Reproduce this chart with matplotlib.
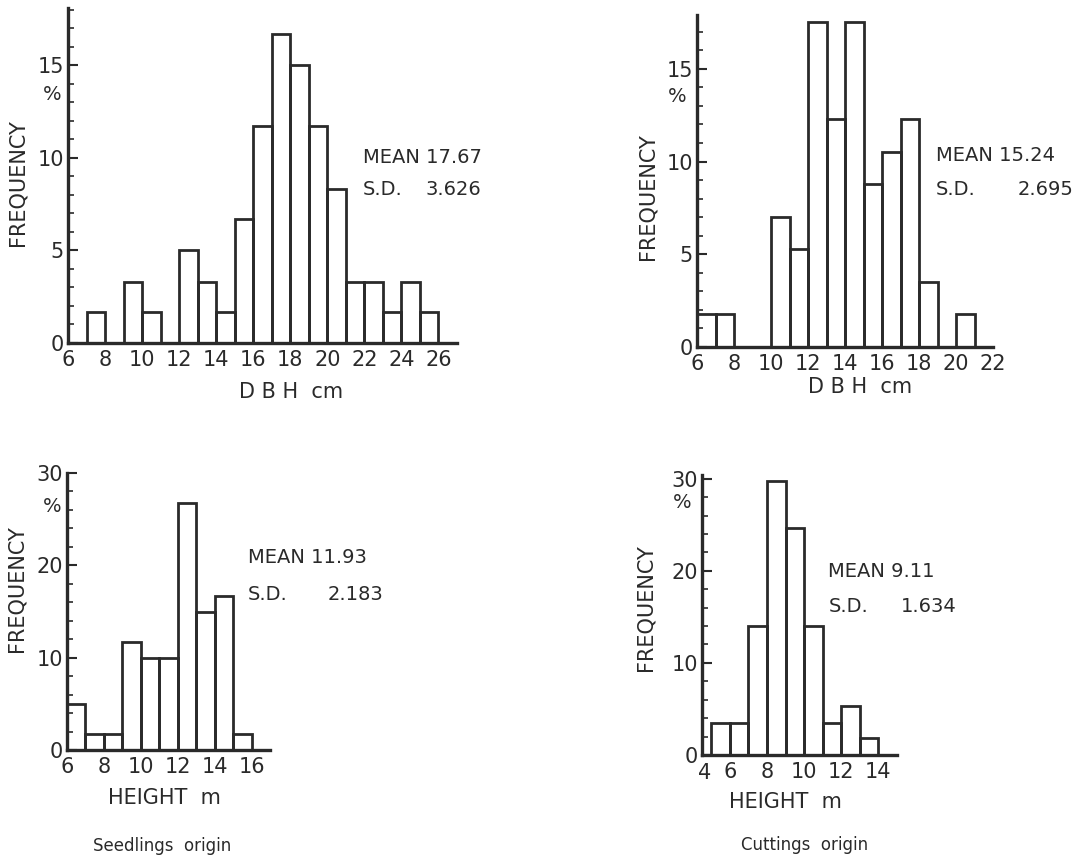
import matplotlib
matplotlib.use("Agg")
import matplotlib.pyplot as plt
from matplotlib import font_manager
from matplotlib.ticker import MultipleLocator

# percent frequency per 1-unit class, keyed by the left edge of each class
dbh_seed_edges = list(range(7, 26))
dbh_seed_pct = [1.7, 0, 3.3, 1.7, 0, 5.0, 3.3, 1.7, 6.7, 11.7,
                16.7, 15.0, 11.7, 8.3, 3.3, 3.3, 1.7, 3.3, 1.7]

dbh_cut_edges = list(range(6, 21))
dbh_cut_pct = [1.8, 1.8, 0, 0, 7.0, 5.3, 17.5, 12.3, 17.5, 8.8,
               10.5, 12.3, 3.5, 0, 1.8]

ht_seed_edges = list(range(6, 16))
ht_seed_pct = [5.0, 1.7, 1.7, 11.7, 10.0, 10.0, 26.7, 15.0, 16.7, 1.7]

ht_cut_edges = list(range(5, 14))
ht_cut_pct = [3.5, 3.5, 14.0, 29.8, 24.6, 14.0, 3.5, 5.3, 1.8]

stats = {
    "dbh_seed": ("17.67", "3.626"),
    "dbh_cut": ("15.24", "2.695"),
    "ht_seed": ("11.93", "2.183"),
    "ht_cut": ("9.11", "1.634"),
}

INK = "#2a2a2a"
W, H = 1090, 860

# pick a narrow face for the digits if one is around
names = {f.name for f in font_manager.fontManager.ttflist}
NARROW = "DejaVu Sans"
for cand in ["Liberation Sans Narrow", "DejaVu Sans Condensed"]:
    if cand in names:
        NARROW = cand
        break

plt.rcParams["font.family"] = "DejaVu Sans"

fig = plt.figure(figsize=(W / 100, H / 100), dpi=100)
fig.patch.set_facecolor("white")


def px(x, y):
    return x / W, 1 - y / H


def make_axes(left, top, right, bottom):
    l, t = px(left, top)
    r, b = px(right, bottom)
    return fig.add_axes([l, b, r - l, t - b])


def histo(ax, edges, pct, xlim, ylim, ymajor, yminor, xticks):
    ax.bar(edges, pct, width=1, align="edge", fill=False,
           edgecolor=INK, linewidth=2)
    ax.set_xlim(*xlim)
    ax.set_ylim(*ylim)
    for s in ["top", "right"]:
        ax.spines[s].set_visible(False)
    for s in ["left", "bottom"]:
        ax.spines[s].set_linewidth(2.4)
        ax.spines[s].set_color(INK)
    ax.set_xticks(xticks)
    ax.yaxis.set_major_locator(MultipleLocator(ymajor))
    ax.yaxis.set_minor_locator(MultipleLocator(yminor))
    ax.tick_params(axis="x", length=0, pad=5, labelsize=15, colors=INK)
    ax.tick_params(axis="y", which="major", direction="in", length=7,
                   width=1.5, pad=3, labelsize=15, colors=INK)
    ax.tick_params(axis="y", which="minor", direction="in", length=4,
                   width=1.2, colors=INK)
    for lab in ax.get_xticklabels() + ax.get_yticklabels():
        lab.set_family(NARROW)
    ax.set_facecolor("none")


def stat_text(ax, key, x, y_mean, y_sd, x_val):
    mean, sd = stats[key]
    kw = dict(fontsize=14, color=INK, va="center", family=NARROW)
    ax.text(x, y_mean, "MEAN " + mean, **kw)
    ax.text(x, y_sd, "S.D.", **kw)
    ax.text(x_val, y_sd, sd, **kw)


def fig_label(x, y, s, size=15, rot=0):
    fig.text(*px(x, y), s, fontsize=size, color=INK, rotation=rot,
             ha="center", va="center")


# top left: DBH, seedlings
ax1 = make_axes(68, 8, 457, 343)
histo(ax1, dbh_seed_edges, dbh_seed_pct, (6, 27), (0, 18.1), 5, 1,
      range(6, 27, 2))
stat_text(ax1, "dbh_seed", 21.9, 10.0, 8.3, 25.3)
fig_label(18, 183, "FREQUENCY", rot=90)
fig_label(52, 95, "%", size=14)
fig_label(291, 392, "D B H  cm")

# top right: DBH, cuttings
ax2 = make_axes(697, 15, 993, 347)
histo(ax2, dbh_cut_edges, dbh_cut_pct, (6, 22), (0, 17.9), 5, 1,
      range(6, 23, 2))
stat_text(ax2, "dbh_cut", 18.9, 10.3, 8.5, 23.35)
fig_label(648, 197, "FREQUENCY", rot=90)
fig_label(677, 96, "%", size=14)
fig_label(860, 387, "D B H  cm")

# bottom left: height, seedlings
ax3 = make_axes(67, 473, 270, 750)
histo(ax3, ht_seed_edges, ht_seed_pct, (6, 17), (0, 30), 10, 2,
      range(6, 17, 2))
stat_text(ax3, "ht_seed", 15.8, 20.8, 16.8, 20.1)
fig_label(17, 589, "FREQUENCY", rot=90)
fig_label(52, 507, "%", size=14)
fig_label(164, 798, "HEIGHT  m")
fig_label(162, 846, "Seedlings  origin", size=12)

# bottom right: height, cuttings
ax4 = make_axes(702, 475, 897, 755)
histo(ax4, ht_cut_edges, ht_cut_pct, (4.5, 15), (0, 30.4), 10, 2,
      range(6, 15, 2))
ax4.annotate("4", (4.5, 0), xytext=(2, -6), textcoords="offset points",
             ha="center", va="top", fontsize=15, color=INK, family=NARROW)
stat_text(ax4, "ht_cut", 11.3, 19.9, 16.1, 15.2)
fig_label(646, 608, "FREQUENCY", rot=90)
fig_label(682, 503, "%", size=14)
fig_label(785, 802, "HEIGHT  m")
fig_label(805, 845, "Cuttings  origin", size=12)

fig.savefig("out.png", dpi=100)
